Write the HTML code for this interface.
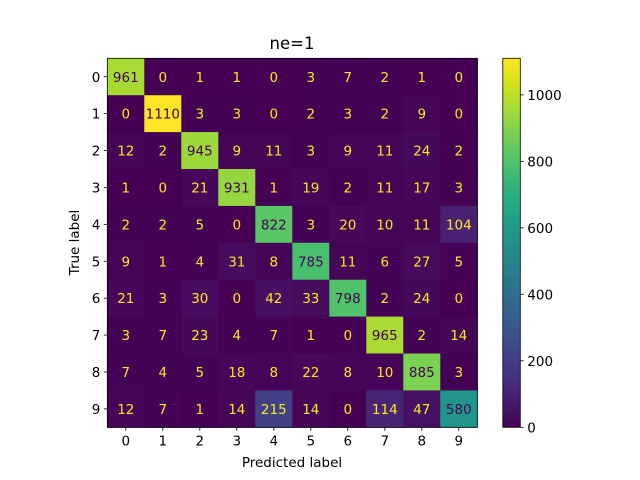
<!DOCTYPE html>
<html><head><meta charset="utf-8">
<style>
html,body{margin:0;padding:0;background:#fff;width:640px;height:480px;overflow:hidden;}
text{font-family:"DejaVu Sans","Liberation Sans",sans-serif;}
</style></head>
<body>
<svg id="chart" width="640" height="480" xmlns="http://www.w3.org/2000/svg">
<defs>
<linearGradient id="vir" x1="0" y1="1" x2="0" y2="0"></linearGradient>
</defs>
<text x="292" y="49" font-size="16.5" text-anchor="middle">ne=1</text>
<text x="292" y="467" font-size="13.5" text-anchor="middle">Predicted label</text>
<text x="0" y="0" font-size="13.5" text-anchor="middle" transform="translate(79,242.5) rotate(-90)">True label</text>
<g id="cells"></g>
<g id="ticks"></g>
<g id="cbar"></g>
</svg>
<script>
const categories = ["0","1","2","3","4","5","6","7","8","9"];
const row0 = [961,0,1,1,0,3,7,2,1,0];
const row1 = [0,1110,3,3,0,2,3,2,9,0];
const row2 = [12,2,945,9,11,3,9,11,24,2];
const row3 = [1,0,21,931,1,19,2,11,17,3];
const row4 = [2,2,5,0,822,3,20,10,11,104];
const row5 = [9,1,4,31,8,785,11,6,27,5];
const row6 = [21,3,30,0,42,33,798,2,24,0];
const row7 = [3,7,23,4,7,1,0,965,2,14];
const row8 = [7,4,5,18,8,22,8,10,885,3];
const row9 = [12,7,1,14,215,14,0,114,47,580];
const matrix = [row0,row1,row2,row3,row4,row5,row6,row7,row8,row9];
const cbarTicks = [0,200,400,600,800,1000];

const NS="http://www.w3.org/2000/svg";
const X0=107.3, Y0=58.3, W=370, H=369;
const n=categories.length;
const cw=W/n, ch=H/n;
let vmax=0; matrix.forEach(r=>r.forEach(v=>{if(v>vmax)vmax=v;}));
const vmin=0;
const stops=["#440154","#48186a","#472d7b","#424086","#3b528b","#33638d","#2c728e","#26828e","#21918c","#1fa088","#28ae80","#3fbc73","#5ec962","#84d44b","#addc30","#d8e219","#fde725"];
function hex(h){return [1,3,5].map(i=>parseInt(h.substr(i,2),16));}
function viridis(t){
  t=Math.max(0,Math.min(1,t));
  const p=t*(stops.length-1), i=Math.min(Math.floor(p),stops.length-2), f=p-i;
  const a=hex(stops[i]), b=hex(stops[i+1]);
  return "rgb("+a.map((c,k)=>Math.round(c+(b[k]-c)*f)).join(",")+")";
}
function xs(j){return X0+j*cw;}
function ys(i){return Y0+i*ch;}
function el(tag,attrs,parent){const e=document.createElementNS(NS,tag);for(const k in attrs)e.setAttribute(k,attrs[k]);parent.appendChild(e);return e;}

const cells=document.getElementById("cells");
const thresh=(vmax+vmin)/2;
matrix.forEach((row,i)=>row.forEach((v,j)=>{
  const r=el("rect",{x:xs(j),y:ys(i),width:cw+0.5,height:ch+0.5,fill:viridis((v-vmin)/(vmax-vmin))},cells);
  
  
  const t=el("text",{x:xs(j)+cw/2,y:ys(i)+ch/2+5,"font-size":"13.5","text-anchor":"middle",fill:v<thresh?"#fde725":"#440154"},cells);
  
  
  t.textContent=v;
}));
el("rect",{x:X0,y:Y0,width:W,height:H,fill:"none",stroke:"#000","stroke-width":"0.8"},cells);

const tk=document.getElementById("ticks");
categories.forEach((c,k)=>{
  const cx=xs(k)+cw/2, cy=ys(k)+ch/2;
  el("line",{x1:cx,y1:Y0+H,x2:cx,y2:Y0+H+3.5,stroke:"#000","stroke-width":"0.8"},tk);
  const tx=el("text",{x:cx,y:Y0+H+18,"font-size":"13.5","text-anchor":"middle"},tk);
  
  
  tx.textContent=c;
  el("line",{x1:X0,y1:cy,x2:X0-3.5,y2:cy,stroke:"#000","stroke-width":"0.8"},tk);
  const ty=el("text",{x:X0-7,y:cy+5,"font-size":"13.5","text-anchor":"end"},tk);
  
  
  ty.textContent=c;
});

const grad=document.getElementById("vir");
stops.forEach((s,k)=>el("stop",{offset:(k/(stops.length-1)),"stop-color":s},grad));
const cb=document.getElementById("cbar");
const CX=502.8, CW=17.5, CY=Y0, CH=H;
const cr=el("rect",{x:CX,y:CY,width:CW,height:CH,fill:"url(#vir)",stroke:"#000","stroke-width":"0.8"},cb);


function cys(v){return CY+CH-(v-vmin)/(vmax-vmin)*CH;}
cbarTicks.forEach(v=>{
  const y=cys(v);
  el("line",{x1:CX+CW,y1:y,x2:CX+CW+3.5,y2:y,stroke:"#000","stroke-width":"0.8"},cb);
  const t=el("text",{x:CX+CW+7,y:y+5,"font-size":"13.5"},cb);
  
  
  t.textContent=v;
});
</script>
</body></html>
